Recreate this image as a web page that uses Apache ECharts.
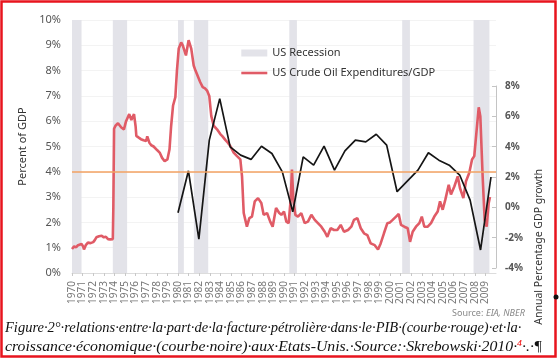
<!DOCTYPE html>
<html>
<head>
<meta charset="utf-8">
<script src="https://cdn.jsdelivr.net/npm/echarts@6/dist/echarts.min.js"></script>
<style>html,body{margin:0;padding:0;background:#fff;}#c{width:560px;height:359px;}</style>
</head>
<body>
<div id="c"></div>
<script>
// ---- data ----
const xTickLabels = ['1970','1971','1972','1973','1974','1975','1976','1977','1978','1979','1980','1981','1982','1983','1984','1985','1986','1987','1988','1989','1990','1991','1992','1993','1994','1995','1996','1997','1998','1999','2000','2001','2002','2003','2004','2005','2006','2007','2008','2009'];
const leftTicks = [0,1,2,3,4,5,6,7,8,9,10];
const rightTicks = [-4,-2,0,2,4,6,8];

const recessionStart = [1970.0, 1973.85, 1980.0, 1981.5, 1990.5, 2001.15, 2007.88];
const recessionEnd   = [1970.9, 1975.2, 1980.55, 1982.85, 1991.22, 2001.88, 2009.38];

const oilYears = [1970.0,1970.2,1970.4,1970.57,1970.75,1970.9,1971.05,1971.13,1971.3,1971.5,1971.75,1972.0,1972.15,1972.3,1972.55,1972.8,1973.0,1973.2,1973.4,1973.6,1973.85,1973.9,1973.97,1974.1,1974.34,1974.5,1974.65,1974.9,1975.1,1975.25,1975.4,1975.6,1975.75,1975.85,1976.0,1976.07,1976.3,1976.5,1976.75,1977.0,1977.1,1977.3,1977.48,1977.7,1977.86,1978.05,1978.27,1978.5,1978.74,1978.9,1979.0,1979.2,1979.35,1979.53,1979.75,1979.9,1980.07,1980.3,1980.45,1980.63,1980.75,1981.0,1981.25,1981.48,1981.65,1981.8,1982.1,1982.33,1982.55,1982.74,1982.95,1983.14,1983.37,1983.68,1983.99,1984.2,1984.46,1984.7,1984.93,1985.25,1985.57,1985.88,1986.04,1986.2,1986.35,1986.5,1986.73,1986.98,1987.24,1987.55,1987.86,1988.08,1988.4,1988.7,1988.93,1989.25,1989.55,1989.75,1990.0,1990.22,1990.44,1990.63,1990.75,1990.88,1991.07,1991.32,1991.63,1991.95,1992.26,1992.58,1992.9,1993.2,1993.52,1993.84,1994.09,1994.4,1994.72,1995.03,1995.35,1995.66,1996.04,1996.35,1996.6,1996.92,1997.24,1997.55,1997.86,1998.18,1998.56,1998.87,1999.12,1999.43,1999.75,2000.0,2000.25,2000.57,2000.82,2001.04,2001.35,2001.67,2001.89,2002.14,2002.45,2002.77,2003.0,2003.24,2003.56,2003.87,2004.18,2004.5,2004.72,2004.97,2005.22,2005.54,2005.75,2006.07,2006.39,2006.6,2006.92,2007.17,2007.48,2007.74,2007.95,2008.18,2008.37,2008.52,2008.74,2008.93,2009.12,2009.31,2009.43];
const oilShare = [0.95,1.05,1.02,1.1,1.05,1.15,1.05,0.93,1.1,1.2,1.18,1.22,1.3,1.41,1.45,1.47,1.41,1.43,1.34,1.33,1.34,2.6,5.7,5.82,5.92,5.85,5.75,5.68,6.0,5.95,6.28,6.05,6.1,6.28,5.8,5.42,5.35,5.29,5.25,5.22,5.4,5.15,5.05,5.0,4.95,4.85,4.76,4.55,4.42,4.4,4.49,4.89,5.8,6.61,6.95,8.0,8.87,9.11,9.0,8.95,8.6,9.2,8.87,8.2,8.0,8.07,7.54,7.35,7.3,7.21,7.0,6.2,5.82,5.68,5.49,5.4,5.26,5.15,5.02,4.76,4.62,4.49,3.82,2.37,2.1,1.83,2.17,2.23,2.83,2.96,2.77,2.3,2.37,2.03,1.83,2.57,2.37,2.3,2.43,2.03,1.97,2.9,4.09,2.9,2.3,2.23,2.37,1.97,2.03,2.3,2.1,1.97,1.83,1.63,1.43,1.77,1.7,1.7,1.9,1.63,1.7,1.83,2.1,2.17,1.77,1.57,1.5,1.17,1.1,0.93,1.17,1.57,1.97,2.0,2.1,2.23,2.33,1.9,1.83,1.77,1.23,1.63,1.83,1.97,2.23,1.83,1.83,1.97,2.23,2.43,2.83,2.5,2.9,3.49,3.1,3.42,3.82,3.36,2.96,3.63,3.96,4.49,4.62,5.68,6.55,6.2,3.82,2.1,1.83,2.76,3.0];

const gdpYears = [1980,1981,1982,1983,1984,1985,1986,1987,1988,1989,1990,1991,1992,1993,1994,1995,1996,1997,1998,1999,2000,2001,2002,2003,2004,2005,2006,2007,2008,2009,2010];
const gdpGrowth = [-0.36,2.41,-2.1,4.43,7.17,3.99,3.44,3.16,4.03,3.55,2.34,-0.29,3.33,2.78,4.03,2.45,3.72,4.43,4.32,4.82,4.1,1.03,1.74,2.45,3.6,3.11,2.78,2.13,0.48,-2.81,2.0];

const referenceLevel = 4;

// ---- chart ----
const chart = echarts.init(document.getElementById('c'), null, {renderer:'canvas'});
const FONT = 'Noto Sans';
const SERIF = 'Liberation Serif';
const bands = recessionStart.map((s,i)=>[{xAxis:s, yAxis:0},{xAxis:recessionEnd[i], yAxis:10}]);

chart.setOption({
  animation:false,
  backgroundColor:'#fff',
  textStyle:{fontFamily:FONT},
  grid:[
    {left:72, right:64, top:20, bottom:86},
    {left:72, right:64, top:86, bottom:91}
  ],
  legend:{
    orient:'vertical', left:235, top:41, itemGap:6, itemWidth:26, itemHeight:7,
    textStyle:{fontFamily:FONT, fontSize:11, color:'#333', lineHeight:14},
    data:[
      {name:'US Recession', icon:'rect', itemStyle:{color:'#e3e3e9'}},
      {name:'US Crude Oil Expenditures/GDP', itemStyle:{opacity:0}, lineStyle:{color:'#e05b66', width:2.6}}
    ]
  },
  xAxis:[
    {gridIndex:0, type:'value', min:1970, max:2010, interval:1,
     axisLine:{show:true, lineStyle:{color:'#dcdcdc'}},
     axisTick:{show:true, length:3, lineStyle:{color:'#c8c8c8'}},
     splitLine:{show:false},
     axisLabel:{rotate:90, margin:8, fontSize:10, color:'#777', fontFamily:FONT,
       showMaxLabel:false,
       formatter:function(v){ const s=String(Math.round(v)); return xTickLabels.indexOf(s)>=0 ? s : ''; }}
    },
    {gridIndex:1, type:'value', min:1969.84, max:2010.48, show:false}
  ],
  yAxis:[
    {gridIndex:0, type:'value', min:leftTicks[0], max:leftTicks[leftTicks.length-1], interval:1,
     name:'Percent of GDP', nameLocation:'middle', nameGap:44, nameRotate:90,
     nameTextStyle:{fontFamily:FONT, fontSize:11, color:'#333'},
     axisLine:{show:false}, axisTick:{show:false},
     splitLine:{show:true, lineStyle:{color:'#f3f3f3'}},
     axisLabel:{margin:11, fontSize:11, color:'#555', fontFamily:FONT, formatter:'{value}%'}
    },
    {gridIndex:1, type:'value', position:'right', min:rightTicks[0], max:rightTicks[rightTicks.length-1], interval:2,
     axisLine:{show:true, lineStyle:{color:'#c4c4c4'}},
     axisTick:{show:true, inside:true, length:4, lineStyle:{color:'#c4c4c4'}},
     splitLine:{show:false},
     axisLabel:{margin:9, fontSize:10, fontWeight:'bold', color:'#555', fontFamily:FONT, formatter:'{value}%'}
    }
  ],
  graphic:[
    {type:'text', left:534, top:169, rotation:Math.PI/2, origin:[0,0],
     style:{text:'Annual Percentage GDP growth', font:'10.5px "Noto Sans"', fill:'#333', align:'center', verticalAlign:'middle', x:0, y:0}, z:10},
    {type:'text', style:{text:'Source: ', x:452, y:313, font:'9px "Noto Sans"', fill:'#888', verticalAlign:'middle'}},
    {type:'text', style:{text:'EIA, NBER', x:486, y:313, font:'italic 9px "Noto Sans"', fill:'#888', verticalAlign:'middle'}},
    {type:'text', style:{
      x:5, y:328, verticalAlign:'middle',
      text:'Figure·2°·relations·entre·la·part·de·la·facture·pétrolière·dans·le·PIB·(courbe·rouge)·et·la·',
      font:'italic 14.5px "Liberation Serif"', fill:'#111'}},
    {type:'text', x:5, y:347, scaleX:1.09, scaleY:1, style:{
      x:0, y:0, verticalAlign:'middle',
      text:'{a|croissance·économique·(courbe·noire)·aux·Etats-Unis.·Source:·Skrebowski·2010·}{s|4}{a|·.·¶}',
      rich:{
        a:{fontFamily:SERIF, fontStyle:'italic', fontSize:14.5, fill:'#111'},
        s:{fontFamily:SERIF, fontStyle:'italic', fontSize:9, fill:'#e00', padding:[0,0,7,0]}
      }}},
    {type:'rect', shape:{x:1.5, y:1.5, width:554, height:355}, style:{fill:'none', stroke:'#e8141e', lineWidth:2.5}, z:20},
    {type:'circle', shape:{cx:556, cy:297, r:2.5}, style:{fill:'#111'}, z:21}
  ],
  series:[
    {name:'US Recession', type:'line', xAxisIndex:0, yAxisIndex:0, data:[], symbol:'none',
     itemStyle:{color:'#e3e3e9'}, z:1,
     markArea:{silent:true, itemStyle:{color:'#e3e3e9'}, data:bands}
    },
    {name:'ref', type:'line', xAxisIndex:0, yAxisIndex:0, data:[], symbol:'none', z:2,
     markLine:{silent:true, symbol:['none','none'], label:{show:false},
       lineStyle:{color:'#f3a262', width:1.6, type:'solid'}, data:[{yAxis:referenceLevel}]}
    },
    {name:'US Crude Oil Expenditures/GDP', type:'line', xAxisIndex:0, yAxisIndex:0, symbol:'none', z:3,
     lineStyle:{color:'#e05b66', width:2.6}, itemStyle:{color:'#e05b66'},
     data:oilYears.map((y,i)=>[y, oilShare[i]])
    },
    {name:'GDP growth', type:'line', xAxisIndex:1, yAxisIndex:1, symbol:'none', z:4,
     lineStyle:{color:'#151515', width:1.7}, itemStyle:{color:'#151515'},
     data:gdpYears.map((y,i)=>[y, gdpGrowth[i]])
    }
  ]
});
</script>
</body>
</html>
